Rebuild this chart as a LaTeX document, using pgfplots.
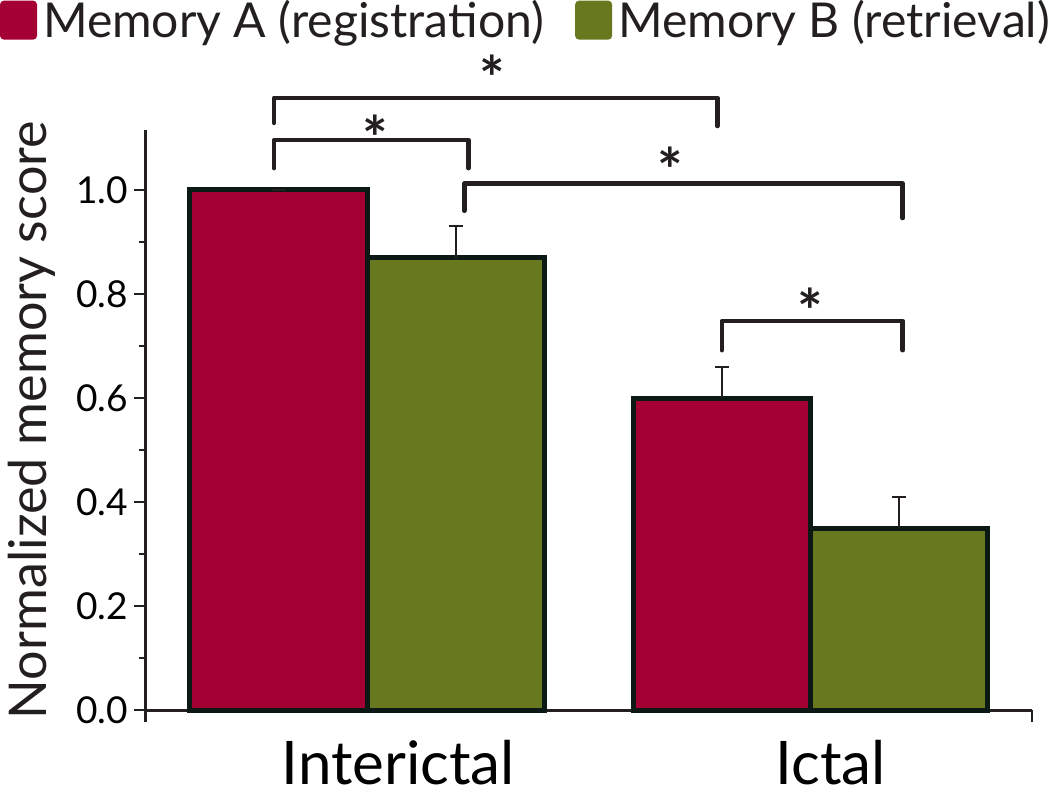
\documentclass[border=0pt]{standalone}
\usepackage{pgfplots}
\pgfplotsset{compat=1.18}
\usepackage{fontspec}
\setmainfont{Lato}
\definecolor{memA}{RGB}{165,0,52}
\definecolor{memB}{RGB}{104,120,30}
\definecolor{edge}{RGB}{12,24,20}
\definecolor{ink}{RGB}{35,31,32}
\begin{document}
\begin{tikzpicture}
\begin{axis}[
  scale only axis, width=442.5pt, height=289.5pt,
  xmin=-0.5, xmax=1.5, ymin=0, ymax=1.115,
  axis x line*=bottom, axis y line*=left,
  axis line style={line width=1.5pt, color=ink},
  clip=false,
  xtick={-0.5,1.5}, xticklabels={,},
  extra x ticks={0.07,1.045}, extra x tick labels={Interictal,Ictal},
  extra x tick style={major tick length=0pt, tick label style={font=\fontsize{30}{30}\selectfont, inner sep=0pt, text depth=0.5pt, anchor=north, yshift=-15pt}},
  ytick={0,0.2,0.4,0.6,0.8,1.0}, minor ytick={0.1,0.3,0.5,0.7,0.9},
  yticklabel style={/pgf/number format/fixed, /pgf/number format/fixed zerofill, /pgf/number format/precision=1, font=\fontsize{18.5}{19}\selectfont, inner sep=0pt, xshift=-2.5pt},
  /pgf/number format/assume math mode=true,
  tick align=outside,
  major tick length=6pt, minor tick length=3.5pt,
  tick style={line width=1.2pt, color=ink},
  ylabel={Normalized memory score},
  ylabel style={font=\fontsize{26}{26}\selectfont, color=ink, inner sep=0pt, at={(axis description cs:-0.155,0.5)}, anchor=north},
  legend style={draw=none, fill=none, legend columns=2, at={(0.428,1.225)}, anchor=north,
    font=\fontsize{24}{24}\selectfont, text=ink, inner sep=0pt,
    nodes={inner sep=0pt},
    /tikz/every even column/.append style={column sep=15.5pt},
    /tikz/every odd column/.append style={column sep=3pt}},
  ybar, bar width=0.4, bar shift=0pt,
]
\addplot[fill=memA, draw=edge, line width=2.5pt,
  legend image code/.code={\fill[memA, rounded corners=1pt] (0pt,-8.5pt) rectangle (16pt,8.5pt);},
  error bars/.cd, y dir=plus, y explicit, error bar style={line width=1pt, color=ink}, error mark options={line width=1pt, mark size=3.5pt, rotate=90, color=ink}]
  coordinates {(-0.2,1.00) +- (0,0) (0.8,0.60) +- (0,0.06)};
\addlegendentry{Memory A (registration)}
\addplot[fill=memB, draw=edge, line width=2.5pt,
  legend image code/.code={\fill[memB, rounded corners=1pt] (0pt,-8.5pt) rectangle (16pt,8.5pt);},
  error bars/.cd, y dir=plus, y explicit, error bar style={line width=1pt, color=ink}, error mark options={line width=1pt, mark size=3.5pt, rotate=90, color=ink}]
  coordinates {(0.2,0.87) +- (0,0.06) (1.2,0.35) +- (0,0.06)};
\addlegendentry{Memory B (retrieval)}
\begin{scope}[line width=2.3pt, line cap=round, line join=round, color=ink]
\draw (axis cs:-0.21,1.129) -- (axis cs:-0.21,1.177) -- (axis cs:0.79,1.177) -- (axis cs:0.79,1.123);
\draw (axis cs:-0.21,1.042) -- (axis cs:-0.21,1.096) -- (axis cs:0.228,1.096) -- (axis cs:0.228,1.042);
\draw (axis cs:0.219,0.960) -- (axis cs:0.219,1.012) -- (axis cs:1.208,1.012) -- (axis cs:1.208,0.946);
\draw (axis cs:0.80,0.692) -- (axis cs:0.80,0.748) -- (axis cs:1.208,0.748) -- (axis cs:1.208,0.692);
\end{scope}
\begin{scope}[every node/.style={anchor=north, inner sep=0pt, font=\bfseries\fontsize{30}{30}\selectfont, text=ink}]
\node at (axis cs:0.282,1.26) {*};
\node at (axis cs:0.018,1.144) {*};
\node at (axis cs:0.684,1.083) {*};
\node at (axis cs:1.0,0.813) {*};
\end{scope}
\end{axis}
\end{tikzpicture}
\end{document}
